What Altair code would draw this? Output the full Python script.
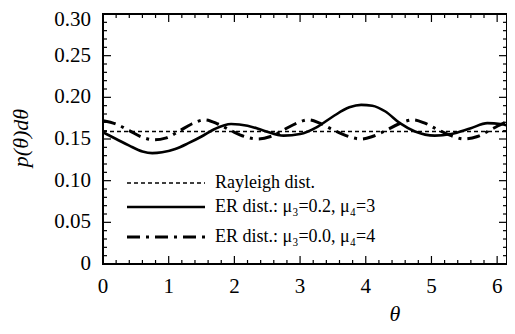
import altair as alt
import pandas as pd

# ---- data ----
theta_er1 = [0, 0.2, 0.4, 0.6, 0.75, 0.9, 1.1, 1.3, 1.5, 1.7, 1.95, 2.2, 2.45, 2.75, 3.0,
             3.25, 3.5, 3.75, 3.93, 4.1, 4.3, 4.52, 4.75, 5.05, 5.3, 5.6, 5.85, 6.05, 6.2]
p_er1 = [0.158, 0.150, 0.142, 0.135, 0.133, 0.134, 0.138, 0.145, 0.153, 0.162, 0.168, 0.166,
         0.160, 0.154, 0.156, 0.164, 0.177, 0.188, 0.191, 0.190, 0.183, 0.169, 0.159, 0.154,
         0.156, 0.163, 0.169, 0.168, 0.165]

theta_er2 = [0, 0.2, 0.4, 0.6, 0.78, 0.95, 1.15, 1.35, 1.55, 1.75, 1.95, 2.15, 2.35, 2.55,
             2.75, 2.95, 3.13, 3.3, 3.5, 3.7, 3.93, 4.1, 4.3, 4.5, 4.72, 4.9, 5.1, 5.3, 5.5,
             5.7, 5.9, 6.1, 6.2]
p_er2 = [0.172, 0.168, 0.160, 0.152, 0.149, 0.151, 0.159, 0.168, 0.173, 0.168, 0.160, 0.153,
         0.150, 0.153, 0.161, 0.169, 0.173, 0.169, 0.161, 0.154, 0.150, 0.153, 0.160, 0.168,
         0.173, 0.169, 0.161, 0.154, 0.150, 0.153, 0.161, 0.169, 0.172]

theta_ray = [0, 6.2]
p_ray = [0.159, 0.159]

legend_labels = ["Rayleigh  dist.", "ER dist.: μ₃=0.2,  μ₄=3", "ER dist.: μ₃=0.0,  μ₄=4"]

x_major = [0, 1, 2, 3, 4, 5, 6]
x_labels = ["0", "1", "2", "3", "4", "5", "6"]
x_minor = [round(i * 0.2, 1) for i in range(31) if i % 5 != 0]
y_major = [0, 0.05, 0.10, 0.15, 0.20, 0.25, 0.30]
y_labels = ["0", "0.05", "0.10", "0.15", "0.20", "0.25", "0.30"]
y_minor = [round(i * 0.01, 2) for i in range(31) if i % 5 != 0]
x_title = "θ"
y_title = "p(θ)dθ"

W, H = 404, 250
XMAX = 6.15
SERIF = "Liberation Serif"

xscale = alt.Scale(domain=[0, XMAX], nice=False, zero=False)
yscale = alt.Scale(domain=[0, 0.30], nice=False, zero=False)

df = pd.concat([
    pd.DataFrame({"theta": theta_ray, "p": p_ray, "s": "ray"}),
    pd.DataFrame({"theta": theta_er1, "p": p_er1, "s": "er1"}),
    pd.DataFrame({"theta": theta_er2, "p": p_er2, "s": "er2"}),
])

base = alt.Chart(df)
X = alt.X("theta:Q", scale=xscale, axis=None)
Y = alt.Y("p:Q", scale=yscale, axis=None)

ray = base.transform_filter(alt.datum.s == "ray").mark_line(
    color="black", strokeWidth=1.5, strokeDash=[4, 3], clip=True).encode(x=X, y=Y)
er1 = base.transform_filter(alt.datum.s == "er1").mark_line(
    color="black", strokeWidth=2.6, interpolate="monotone", clip=True).encode(x=X, y=Y)
er2 = base.transform_filter(alt.datum.s == "er2").mark_line(
    color="black", strokeWidth=3, strokeDash=[13, 6, 3, 6], interpolate="monotone",
    clip=True).encode(x=X, y=Y)

layers = [ray, er1, er2]

# tick marks (inward, all four sides)
def xticks(vals, ln):
    d = pd.DataFrame({"theta": vals})
    bottom = alt.Chart(d).mark_rule(color="black", strokeWidth=1.2).encode(
        x=X, y=alt.value(H), y2=alt.value(H - ln))
    top = alt.Chart(d).mark_rule(color="black", strokeWidth=1.2).encode(
        x=X, y=alt.value(0), y2=alt.value(ln))
    return [bottom, top]

def yticks(vals, ln):
    d = pd.DataFrame({"p": vals})
    left = alt.Chart(d).mark_rule(color="black", strokeWidth=1.2).encode(
        y=Y, x=alt.value(0), x2=alt.value(ln))
    right = alt.Chart(d).mark_rule(color="black", strokeWidth=1.2).encode(
        y=Y, x=alt.value(W), x2=alt.value(W - ln))
    return [left, right]

layers += xticks(x_major, 8) + xticks(x_minor, 4) + yticks(y_major, 8) + yticks(y_minor, 4)

# tick labels (serif), placed through the scales
xl = pd.DataFrame({"theta": x_major, "lab": x_labels})
layers.append(alt.Chart(xl).mark_text(font=SERIF, fontSize=21, baseline="top", align="center",
                                      color="black").encode(
    x=X, y=alt.value(H + 12), text="lab:N"))
yl = pd.DataFrame({"p": y_major[:-1], "lab": y_labels[:-1]})
layers.append(alt.Chart(yl).mark_text(font=SERIF, fontSize=21, baseline="middle", align="right",
                                      color="black").encode(
    y=Y, x=alt.value(-12), text="lab:N"))
yl_top = pd.DataFrame({"p": y_major[-1:], "lab": y_labels[-1:]})
layers.append(alt.Chart(yl_top).mark_text(font=SERIF, fontSize=21, baseline="middle",
                                          align="right", color="black", dy=6).encode(
    y=Y, x=alt.value(-12), text="lab:N"))

# axis titles
one = pd.DataFrame({"a": [0]})
layers.append(alt.Chart(one).mark_text(font=SERIF, fontSize=22, fontStyle="italic",
                                       baseline="middle", align="center", color="black").encode(
    x=alt.value(292), y=alt.value(H + 50), text=alt.value(x_title)))
layers.append(alt.Chart(one).mark_text(font=SERIF, fontSize=22, fontStyle="italic", angle=270,
                                       baseline="middle", align="center", color="black").encode(
    x=alt.value(-82), y=alt.value(124), text=alt.value(y_title)))

# legend
leg_y = [169, 193, 223]
leg_dash = [[4, 3], [1, 0], [13, 6, 3, 6]]
leg_w = [1.5, 2.6, 3]
for lab, yy, dash, sw in zip(legend_labels, leg_y, leg_dash, leg_w):
    layers.append(alt.Chart(one).mark_rule(color="black", strokeWidth=sw, strokeDash=dash).encode(
        x=alt.value(24), x2=alt.value(102), y=alt.value(yy)))
    layers.append(alt.Chart(one).mark_text(font=SERIF, fontSize=18, align="left",
                                           baseline="middle", color="black").encode(
        x=alt.value(112), y=alt.value(yy), text=alt.value(lab)))

chart = alt.layer(*layers).properties(
    width=W, height=H,
    autosize=alt.AutoSizeParams(type="none"),
    padding={"left": 95, "top": 6, "right": 0, "bottom": 62},
).configure_view(stroke="black", strokeWidth=2)

chart.save("out.html", embed_options={"renderer": "svg", "actions": False})
